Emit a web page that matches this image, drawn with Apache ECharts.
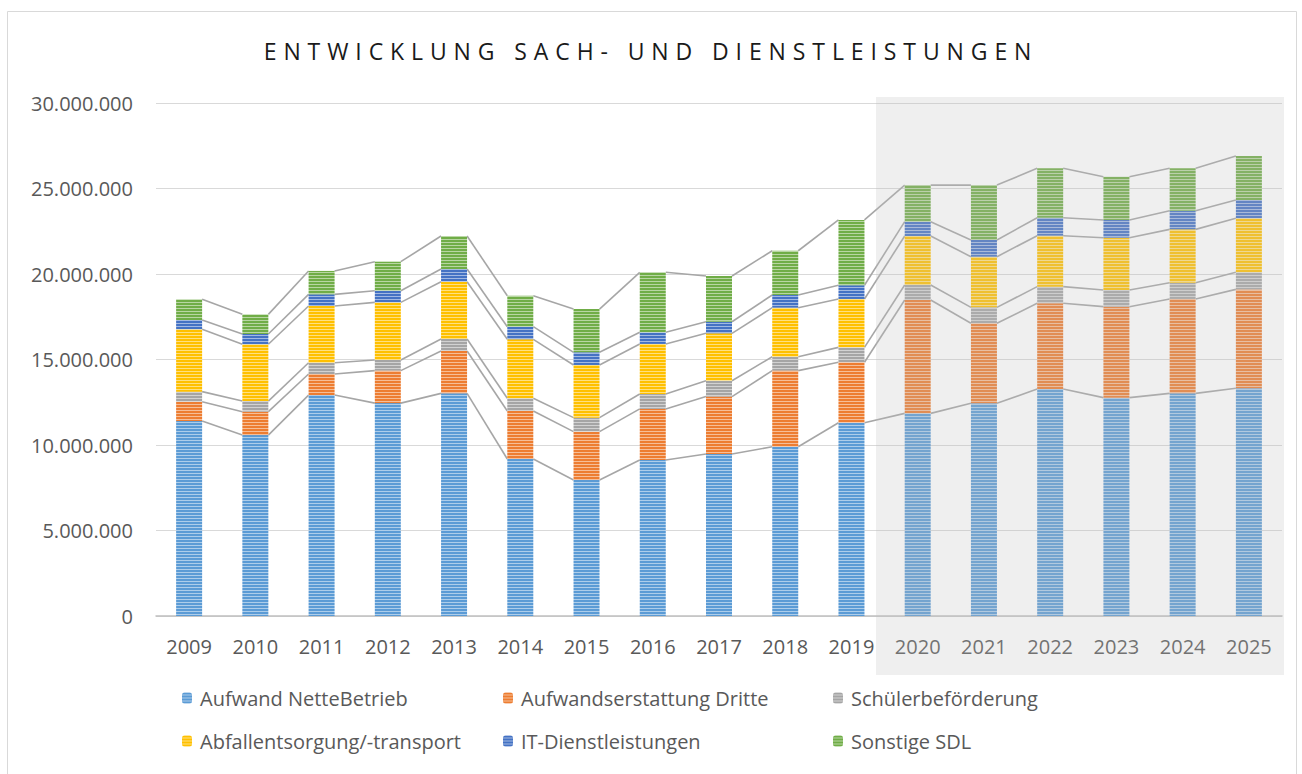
<!DOCTYPE html>
<html><head><meta charset="utf-8">
<script src="https://cdn.jsdelivr.net/npm/echarts@6/dist/echarts.min.js"></script>
<style>
html,body{margin:0;padding:0;background:#fff;}
#chart{width:1302px;height:774px;}
#chart text[style*="23px"]{letter-spacing:6.9px;}
</style></head><body><div id="chart"></div>
<script>
const years = ['2009','2010','2011','2012','2013','2014','2015','2016','2017','2018','2019','2020','2021','2022','2023','2024','2025'];
const seriesNames = ['Aufwand NetteBetrieb','Aufwandserstattung Dritte','Schülerbeförderung','Abfallentsorgung/-transport','IT-Dienstleistungen','Sonstige SDL'];
const aufwandNetteBetrieb = [11400000,10580000,12920000,12450000,13020000,9180000,7950000,9120000,9470000,9900000,11300000,11850000,12440000,13270000,12770000,13020000,13320000];
const aufwandserstattungDritte = [1130000,1370000,1230000,1900000,2480000,2810000,2830000,2990000,3360000,4450000,3540000,6630000,4680000,5020000,5320000,5520000,5780000];
const schuelerbefoerderung = [590000,620000,660000,620000,700000,740000,820000,870000,930000,810000,870000,880000,930000,970000,970000,950000,1000000];
const abfallentsorgung = [3650000,3320000,3320000,3370000,3350000,3450000,3080000,2930000,2770000,2870000,2830000,2860000,2960000,2980000,3060000,3120000,3160000];
const itDienstleistungen = [540000,600000,680000,680000,740000,740000,740000,680000,680000,740000,800000,840000,980000,1050000,1040000,1090000,1070000];
const sonstigeSDL = [1210000,1150000,1370000,1700000,1930000,1810000,2530000,3510000,2670000,2590000,3820000,2140000,3210000,2890000,2530000,2480000,2570000];
const yTickLabels = ['0','5.000.000','10.000.000','15.000.000','20.000.000','25.000.000','30.000.000'];

const colors = ['#5B9BD5','#ED7D31','#A5A5A5','#FFC000','#4472C4','#70AD47'];
const allSeries = [aufwandNetteBetrieb,aufwandserstattungDritte,schuelerbefoerderung,abfallentsorgung,itDienstleistungen,sonstigeSDL];

function stripe(hex){
  const c=document.createElement('canvas'); c.width=4; c.height=3;
  const x=c.getContext('2d');
  x.fillStyle=hex; x.fillRect(0,0,4,3);
  x.fillStyle='rgba(255,255,255,0.5)'; x.fillRect(0,2,4,1);
  return {image:c, repeat:'repeat'};
}

// cumulative tops for series lines
const cum = allSeries.map(()=>[]);
for (let i=0;i<years.length;i++){
  let s=0;
  for (let k=0;k<allSeries.length;k++){ s+=allSeries[k][i]; cum[k].push(s); }
}
const lineData = [];
for (let i=0;i<years.length-1;i++){
  const row=[i];
  for (let k=0;k<cum.length;k++){ row.push(cum[k][i], cum[k][i+1]); }
  lineData.push(row);
}
const BAR_W = 26;

const FONT = 'Open Sans';
const chart = echarts.init(document.getElementById('chart'), null, {renderer:'svg'});

const barSeries = seriesNames.map((n,k)=>({
  name:n, type:'bar', stack:'total', barWidth:BAR_W,
  data: allSeries[k],
  itemStyle:{color: stripe(colors[k])},
  emphasis:{disabled:true}
}));

const legendBase = {orient:'vertical', top:681, itemWidth:10, itemHeight:11, itemGap:19,
  textStyle:{fontSize:20, color:'#595959', lineHeight:24, padding:[0,0,0,3]}};

chart.setOption({
  animation:false,
  textStyle:{fontFamily:FONT},
  title:{
    text:'ENTWICKLUNG SACH- UND DIENSTLEISTUNGEN',
    left:'center', top:34,
    textStyle:{fontSize:23, fontWeight:'normal', color:'#1a1a1a', fontFamily:FONT}
  },
  grid:{left:156, right:20, top:103, bottom:158},
  legend:[
    Object.assign({data:[seriesNames[0],seriesNames[3]], left:177}, legendBase),
    Object.assign({data:[seriesNames[1],seriesNames[4]], left:498}, legendBase),
    Object.assign({data:[seriesNames[2],seriesNames[5]], left:828}, legendBase)
  ],
  xAxis:{
    type:'category', data:years,
    axisLine:{lineStyle:{color:'#BFBFBF', width:1.5}},
    axisTick:{show:false},
    axisLabel:{fontSize:20, color:'#595959', margin:20}
  },
  yAxis:{
    type:'value', min:0, max:30000000, interval:5000000,
    axisLine:{show:false}, axisTick:{show:false},
    splitLine:{lineStyle:{color:'#D9D9D9', width:1}},
    axisLabel:{fontSize:20, color:'#595959', margin:23,
      formatter:(v)=>yTickLabels[Math.round(v/5000000)]}
  },
  series: barSeries.concat([{
    type:'custom', name:'seriesLines', silent:true, z:1,
    data: lineData,
    encode:{x:0, y:[1,2]},
    renderItem:(params, api)=>{
      const i = api.value(0);
      const children=[];
      for (let k=0;k<seriesNames.length;k++){
        const a = api.coord([i, api.value(1+2*k)]);
        const b = api.coord([i+1, api.value(2+2*k)]);
        children.push({type:'line', shape:{x1:a[0]+BAR_W/2, y1:a[1], x2:b[0]-BAR_W/2, y2:b[1]},
          style:{stroke:'#A6A6A6', lineWidth:1.6}});
      }
      return {type:'group', children};
    }
  }]),
  graphic:[
    {type:'rect', z:100, silent:true, shape:{x:876, y:97, width:408, height:578}, style:{fill:'rgba(191,191,191,0.25)'}},
    {type:'rect', z:101, silent:true, shape:{x:7.5, y:11.5, width:1289, height:800}, style:{fill:'none', stroke:'#D9D9D9', lineWidth:1}}
  ]
});
</script></body></html>
